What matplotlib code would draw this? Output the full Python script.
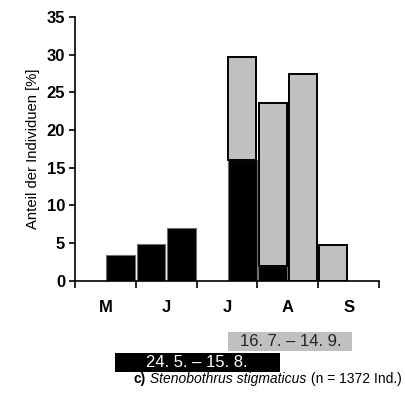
import numpy as np
import matplotlib.pyplot as plt
import matplotlib.transforms as mtransforms
from matplotlib.patches import Rectangle

plt.rcParams['font.family'] = ['Liberation Sans', 'DejaVu Sans']

# half-month slots, May 1st half .. Sep 2nd half
months = ['M', 'J', 'J', 'A', 'S']
black_vals = [0, 3.4, 4.9, 7.0, 0, 16.0, 2.0, 0, 0, 0]
grey_vals = [0, 0, 0, 0, 0, 13.7, 21.6, 27.5, 4.8, 0]

# activity periods (in half-month units), label
grey_period = (5.02, 9.11, '16. 7. – 14. 9.')
black_period = (1.31, 6.75, '24. 5. – 15. 8.')

fig = plt.figure(figsize=(4.05, 4.16), dpi=100)
ax = fig.add_axes([0.185, 0.325, 0.751, 0.634])

x = np.arange(len(black_vals)) + 0.5
b = np.array(black_vals)
g = np.array(grey_vals)
m = b > 0
ax.bar(x[m], b[m], width=0.94, color='black', edgecolor='#707070', linewidth=0.8, zorder=2)
mg = g > 0
ax.bar(x[mg], g[mg], bottom=b[mg], width=0.92, color='#c0c0c0', edgecolor='black', linewidth=1.4, zorder=2)

ax.set_xlim(0, 10)
ax.set_ylim(0, 35)
ax.set_yticks(np.arange(0, 36, 5))
ax.set_xticks(np.arange(0, 11, 2))
ax.set_xticklabels([])
ax.set_xticks(np.arange(1, 10, 2), minor=True)
ax.set_xticklabels(months, minor=True, fontweight='bold', fontsize=12)
ax.tick_params(axis='x', which='minor', length=0, pad=14)
ax.tick_params(axis='x', which='major', length=5, width=1.2, direction='out')
ax.tick_params(axis='y', length=4, width=1.2, labelsize=12, pad=3)
for lab in ax.get_yticklabels():
    lab.set_fontweight('bold')
for s in ['top', 'right']:
    ax.spines[s].set_visible(False)
ax.spines['left'].set_linewidth(1.2)
ax.spines['bottom'].set_linewidth(1.2)
ax.set_ylabel('Anteil der Individuen [%]', fontsize=10.7, labelpad=5)

trans = mtransforms.blended_transform_factory(ax.transData, fig.transFigure)
x0, x1, txt = grey_period
fig.patches.append(Rectangle((x0, 0.156), x1 - x0, 0.046, transform=trans,
                             facecolor='#c0c0c0', edgecolor='none'))
fig.text(7.08, 0.179, txt, transform=trans, ha='center', va='center', fontsize=12, color='#222222')
x0, x1, txt = black_period
fig.patches.append(Rectangle((x0, 0.106), x1 - x0, 0.046, transform=trans,
                             facecolor='black', edgecolor='none'))
fig.text(4.02, 0.129, txt, transform=trans, ha='center', va='center', fontsize=12, color='white')

# caption in three parts, laid out one after the other
r = fig.canvas.get_renderer()
xpos = 134
ypix = 416 - 379
parts = [('c)', dict(fontweight='bold')), (' Stenobothrus stigmaticus', dict(style='italic')),
         (' (n = 1372 Ind.)', {})]
for s, kw in parts:
    t = fig.text(xpos / 405, ypix / 416, s, fontsize=10, va='center', ha='left', **kw)
    xpos += t.get_window_extent(r).width

fig.savefig('out.png', dpi=100)
